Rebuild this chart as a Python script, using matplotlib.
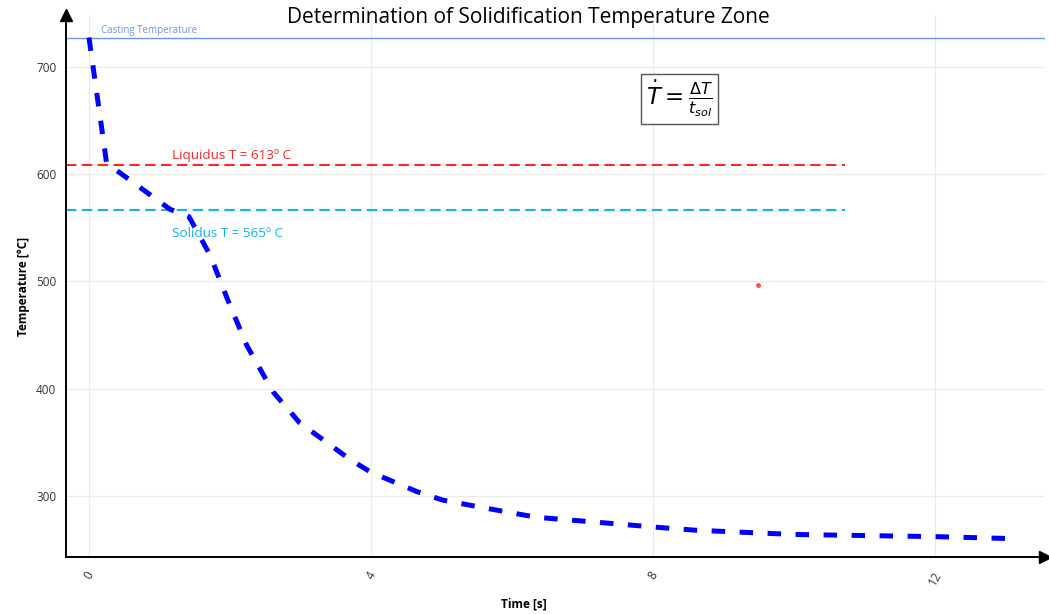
import matplotlib.pyplot as plt
import numpy as np

plt.rcParams['font.family'] = ['Open Sans', 'DejaVu Sans']

# cooling curve
time_s = [0, 0.25, 1.15, 1.42, 1.72, 1.96, 2.24, 2.61, 2.99, 3.37, 3.70, 4.0,
          4.65, 5.02, 5.59, 6.35, 7.1, 8.0, 8.6, 9.3, 10.0, 11.0, 12.0, 13.2]
temp_c = [727, 610, 567, 560, 524, 484, 440, 397, 368, 350, 334, 322,
          304, 296, 289, 280, 276, 271, 268, 266, 264, 263, 262, 260]

casting_T = 727
liquidus_T = 608
solidus_T = 566
line_end = 10.72
dot_x, dot_y = [9.49], [496]

xticks = [0, 4, 8, 12]
yticks = [300, 400, 500, 600, 700]

fig = plt.figure(figsize=(10.49, 6.14), dpi=100)
ax = fig.add_axes([0.0629, 0.0928, 0.9331, 0.8828])
ax.set_xlim(-0.326, 13.56)
ax.set_ylim(243, 748)

ax.set_xticks(xticks)
ax.set_yticks(yticks)
ax.grid(True, color='#ebebeb', lw=0.9)
ax.set_axisbelow(True)
for s in ['top', 'right']:
    ax.spines[s].set_visible(False)
ax.spines['left'].set_linewidth(1.4)
ax.spines['bottom'].set_linewidth(1.4)
ax.tick_params(length=0, labelsize=8.5, labelcolor='#333333')
ax.tick_params(axis='y', pad=7)
ax.tick_params(axis='x', pad=9)
for lab in ax.get_xticklabels():
    lab.set_rotation(60)
    lab.set_ha('center')

# axis arrows
ax.plot([0], [1], marker='^', color='k', ms=8, transform=ax.transAxes, clip_on=False)
ax.plot([1], [0], marker='>', color='k', ms=8, transform=ax.transAxes, clip_on=False)

# reference temperatures
ax.axhline(casting_T, color='#6b97ef', lw=1.0)
ax.text(0.17, 733.5, 'Casting Temperature', color='#6b97ef', fontsize=7, va='center')
ax.plot([-0.326, line_end], [liquidus_T, liquidus_T], color='#f52a2a', lw=1.5,
        linestyle=(0, (5, 2.6)))
ax.text(1.18, 617.5, 'Liquidus T = 613º C', color='#f52a2a', fontsize=9.7, va='center')
ax.plot([-0.326, line_end], [solidus_T, solidus_T], color='#12b4ee', lw=1.5,
        linestyle=(0, (5, 2.6)))
ax.text(1.18, 544.5, 'Solidus T = 565º C', color='#12b4ee', fontsize=9.7, va='center')

# cooling curve
ax.plot(time_s, temp_c, color='#0000ff', lw=3.6, linestyle=(0, (2.7, 2.9)))
ax.plot(dot_x, dot_y, 'o', color='#ff5050', ms=2.5)

ax.text(8.38, 670, r'$\dot{T} = \frac{\Delta T}{t_{sol}}$', fontsize=16.5, ha='center', va='center',
        bbox=dict(boxstyle='square,pad=0.22', fc='white', ec='#555555', lw=1))

ax.set_ylabel('Temperature [°C]', fontsize=8.5, fontweight='bold', labelpad=4)
fig.text(524 / 1049, 1 - 604 / 614, 'Time [s]', fontsize=8.5, fontweight='bold', ha='center', va='center')
fig.text(528 / 1049, 1 - 17 / 614, 'Determination of Solidification Temperature Zone',
         fontsize=15, ha='center', va='center')

fig.savefig('out.png', dpi=100)
